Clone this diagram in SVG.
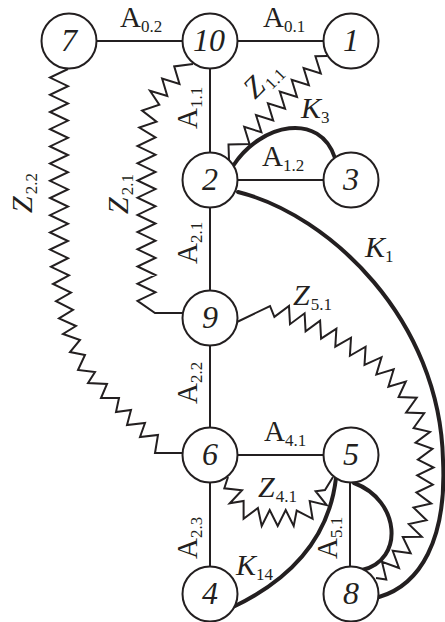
<svg xmlns="http://www.w3.org/2000/svg" width="445" height="622" viewBox="0 0 445 622">
<style>
.e{fill:none;stroke:#231f20;stroke-width:2;stroke-linejoin:miter}
.k{fill:none;stroke:#231f20;stroke-width:4;stroke-linecap:round}
.n circle{fill:#fff;stroke:#231f20;stroke-width:2}
.n text{font-family:"Liberation Serif","Times New Roman",serif;font-style:italic;font-size:32px;fill:#231f20;text-anchor:middle}
.l{font-family:"Liberation Serif","Times New Roman",serif;font-size:29px;fill:#231f20}
.l tspan{font-size:17px;font-style:normal}
.i{font-style:italic;font-size:30px}
</style>
<rect width="445" height="622" fill="#fff"/>
<g id="connectors">
<path class="e" d="M69,41H351M210,41V594M210,180H351M210,455H351M350,455V594"/>
<path id="z22" class="e" d="M68,69 L50,77.6 L68,86.2 L50,94.8 L68,103.4 L50,112 L68,120.6 L50,129.2 L68,137.8 L50,146.4 L68,155 L50,163.6 L68,172.2 L50,180.8 L68,189.4 L50,198 L68,206.6 L50,215.2 L68,223.8 L50,232.4 L68,241 L50,249.6 L68,258.2 L51,266.8 L69,275.4 L53,284 L71,292.6 L56,301.2 L73,309.8 L59,318.4 L76,326 L63,334 L80,340 L70,352 L85,355 L78,370 L95,372 L88,383 L107,384 L101,398 L119,398 L116,412 L131,410 L127,425 L145,423 L140,437 L158,435 L155,453 L183,453"/>
<path id="z21" class="e" d="M193,64 L174.2,66.4 L179.5,83.9 L162.1,78.6 L167.3,96 L150,90.7 L159.3,104.8 L142.1,110.6 L156.5,121.7 L139.3,127.6 L155.5,137.5 L137.5,146.1 L155.5,154.7 L137.5,163.3 L155.5,171.9 L137.5,180.5 L155.5,189.1 L137.5,197.7 L155.5,206.3 L137.5,214.9 L155.5,223.5 L137.5,232.1 L155.5,240.7 L137.5,249.3 L155.5,257.9 L137.5,266.5 L155.5,275.1 L137.5,283.7 L155.5,292.3 L137.5,300.9 L155,313 L183,313"/>
<path id="z11" class="e" d="M327,56 L315.4,56.2 L320.8,73.5 L303.6,68 L308.9,85.2 L291.7,79.7 L297,97 L279.8,91.5 L285.1,108.7 L267.9,103.2 L273.2,120.5 L256,115 L261.4,132.3 L244.2,126.8 L249.5,144 L228.5,144.5 L229,160"/>
<path id="z51" class="e" d="M237,322 L270,306 L274.4,316.9 L289,306 L290,324.2 L304.6,313.3 L305.6,331.4 L320.1,320.6 L321.1,338.7 L336.4,328.6 L335.3,346.7 L351,337.7 L349.9,355.8 L365.6,346.7 L364.5,364.9 L381.5,357.2 L376.3,374.6 L393.7,369.3 L388.4,386.8 L405.8,381.5 L398.6,397.1 L416.7,397.8 L406.1,412.6 L424.2,413.3 L413.6,428 L430,431.9 L415.5,442.6 L432.5,448.9 L417.9,459.7 L433.6,467.5 L417.2,475.3 L432.8,484.7 L416.4,492.5 L431.3,503.6 L413.5,507.5 L426.6,520.2 L408.8,524.1 L421.8,536.7 L402.8,536.9 L410.7,553.3 L392.7,550.8 L399,568 L382,561.9 L386.3,579.5 L376,578"/>
<path id="z41" class="e" d="M228,477 L224.3,488.3 L242,490.3 L229.8,503.3 L243.6,500.9 L243.6,518.8 L257.9,508 L261.7,526 L269.7,510 L277.7,526 L285.7,510 L293.7,526 L296.7,510.5 L312.6,518.8 L309.7,501.1 L326.7,505.2 L315.6,491.2 L325,490 L333,477"/>
<path id="k3" class="k" d="M233,166 C262,122 320,112 335,158"/>
<path id="k1" class="k" d="M238,192 C330,215 440,320 443,460 C447,540 420,585 379,597"/>
<path id="k14" class="k" d="M336,478 C330,530 300,575 233,607"/>
<path id="k58" class="k" d="M354,483 C400,500 405,560 362,570"/>
</g>
<g id="labels">
<text class="l" x="120" y="27">A<tspan dy="5">0.2</tspan></text>
<text class="l" x="263" y="27">A<tspan dy="5">0.1</tspan></text>
<text class="l" x="262" y="166">A<tspan dy="5">1.2</tspan></text>
<text class="l" x="264" y="441">A<tspan dy="5">4.1</tspan></text>
<text class="l" transform="translate(197,129) rotate(-90)">A<tspan dy="5">1.1</tspan></text>
<text class="l" transform="translate(197,264) rotate(-90)">A<tspan dy="5">2.1</tspan></text>
<text class="l" transform="translate(197,404) rotate(-90)">A<tspan dy="5">2.2</tspan></text>
<text class="l" transform="translate(197,559) rotate(-90)">A<tspan dy="5">2.3</tspan></text>
<text class="l" transform="translate(337,559) rotate(-90)">A<tspan dy="5">5.1</tspan></text>
<text class="l i" x="301" y="118">K<tspan dy="5">3</tspan></text>
<text class="l i" x="365" y="257">K<tspan dy="5">1</tspan></text>
<text class="l i" x="236" y="575">K<tspan dy="5">14</tspan></text>
<text class="l i" x="293" y="305">Z<tspan dy="5" dx="1">5.1</tspan></text>
<text class="l i" x="258" y="497">Z<tspan dy="5" dx="1">4.1</tspan></text>
<text class="l i" transform="translate(32,213) rotate(-90)">Z<tspan dy="5" dx="2">2.2</tspan></text>
<text class="l i" transform="translate(128,214) rotate(-90)">Z<tspan dy="5" dx="2">2.1</tspan></text>
<text class="l i" transform="translate(255,100) rotate(-45)">Z<tspan dy="5" dx="2">1.1</tspan></text>
</g>
<g id="n7" class="n"><circle cx="69" cy="41" r="27.5"/><text x="69" y="51">7</text></g>
<g id="n10" class="n"><circle cx="210" cy="41" r="27.5"/><text x="209" y="51">10</text></g>
<g id="n1" class="n"><circle cx="351" cy="41" r="27.5"/><text x="351" y="51">1</text></g>
<g id="n2" class="n"><circle cx="210" cy="180" r="27.5"/><text x="210" y="190">2</text></g>
<g id="n3" class="n"><circle cx="351" cy="180" r="27.5"/><text x="351" y="190">3</text></g>
<g id="n9" class="n"><circle cx="210" cy="318" r="27.5"/><text x="210" y="328">9</text></g>
<g id="n6" class="n"><circle cx="210" cy="455" r="27.5"/><text x="210" y="465">6</text></g>
<g id="n5" class="n"><circle cx="351" cy="455" r="27.5"/><text x="351" y="465">5</text></g>
<g id="n4" class="n"><circle cx="210" cy="594" r="27.5"/><text x="210" y="604">4</text></g>
<g id="n8" class="n"><circle cx="351" cy="594" r="27.5"/><text x="351" y="604">8</text></g>
</svg>
